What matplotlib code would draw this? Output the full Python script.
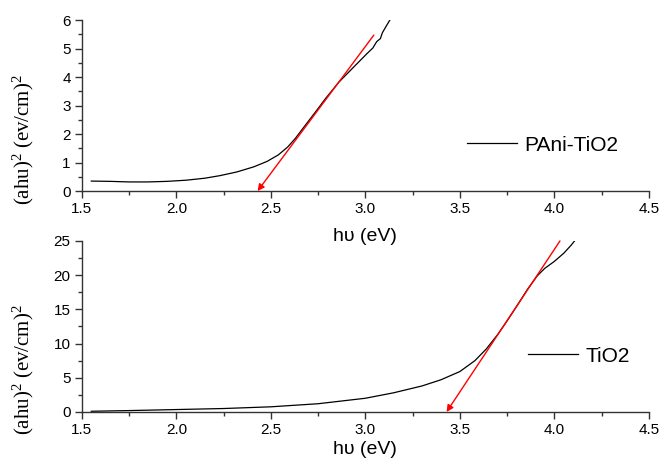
import numpy as np
import matplotlib
matplotlib.use('Agg')
import matplotlib.pyplot as plt
from matplotlib.ticker import MultipleLocator

# PAni-TiO2 curve (top panel)
pani_x = [1.55, 1.65, 1.75, 1.85, 1.95, 2.05, 2.15, 2.23, 2.32, 2.41, 2.48, 2.54, 2.59, 2.63, 2.67,
          2.73, 2.79, 2.86, 2.94, 3.01, 3.04, 3.06, 3.08, 3.09, 3.11, 3.13]
pani_y = [0.35, 0.34, 0.32, 0.32, 0.34, 0.38, 0.45, 0.54, 0.67, 0.85, 1.04, 1.27, 1.55, 1.85, 2.20,
          2.72, 3.25, 3.82, 4.36, 4.83, 5.02, 5.24, 5.35, 5.55, 5.78, 6.00]
pani_fit = [(3.045, 5.47), (2.43, 0.0)]

# TiO2 curve (bottom panel)
tio2_x = [1.55, 1.75, 2.0, 2.25, 2.5, 2.75, 3.0, 3.15, 3.3, 3.4, 3.5, 3.58, 3.64, 3.70,
          3.75, 3.80, 3.86, 3.91, 3.95, 4.00, 4.05, 4.09, 4.11]
tio2_y = [0.1, 0.2, 0.35, 0.5, 0.75, 1.2, 2.0, 2.8, 3.8, 4.7, 5.9, 7.5, 9.2, 11.3,
          13.3, 15.4, 18.0, 19.9, 21.0, 22.0, 23.2, 24.4, 25.1]
tio2_fit = [(4.03, 25.0), (3.43, 0.0)]

xticks = [1.5, 2.0, 2.5, 3.0, 3.5, 4.0, 4.5]
top_yticks = [0, 1, 2, 3, 4, 5, 6]
bot_yticks = [0, 5, 10, 15, 20, 25]

plt.rcParams['font.family'] = ['Liberation Sans', 'DejaVu Sans']
plt.rcParams['mathtext.fontset'] = 'custom'
plt.rcParams['mathtext.rm'] = 'Liberation Serif'
plt.rcParams['mathtext.it'] = 'Liberation Serif'
plt.rcParams['mathtext.default'] = 'rm'

fig = plt.figure(figsize=(6.6, 4.66), dpi=100)
ax1 = fig.add_axes([0.124, 0.590, 0.859, 0.367])
ax2 = fig.add_axes([0.124, 0.116, 0.859, 0.367])
# top panel sits over the bottom one, so its x label is not hidden
ax2.patch.set_visible(False)
ax1.set_zorder(2)
ax1.patch.set_visible(False)

ylabel = r'(ahu)$^2$ (ev/cm)$^2$'

panels = [
    (ax1, pani_x, pani_y, pani_fit, 'PAni-TiO2', top_yticks, 0.5, (0.679, 0.269), 0.30, -0.215),
    (ax2, tio2_x, tio2_y, tio2_fit, 'TiO2', bot_yticks, 2.5, (0.787, 0.327), 0.25, -0.17),
]

for ax, x, y, fit, name, yticks, yminor, legpos, ylab_y, xlab_y in panels:
    ax.plot(x, y, color='black', lw=0.9, label=name)
    ax.annotate('', xy=fit[1], xytext=fit[0],
                arrowprops=dict(arrowstyle='-|>', color='red', lw=1.0,
                                mutation_scale=10, shrinkA=0, shrinkB=0))
    ax.set_xlim(1.5, 4.5)
    ax.set_ylim(yticks[0], yticks[-1])
    ax.set_xticks(xticks)
    ax.set_xticklabels([f'{t:.1f}' for t in xticks])
    ax.set_yticks(yticks)
    ax.xaxis.set_minor_locator(MultipleLocator(0.25))
    ax.yaxis.set_minor_locator(MultipleLocator(yminor))
    for s in ['top', 'right']:
        ax.spines[s].set_visible(False)
    for s in ['left', 'bottom']:
        ax.spines[s].set_linewidth(1.0)
        ax.spines[s].set_color('#333333')
    ax.tick_params(which='major', direction='out', length=5, width=1, labelsize=11, colors='#333333',
                   labelcolor='black', pad=3)
    ax.tick_params(which='minor', direction='out', length=3, width=1, colors='#333333')
    ax.set_xlabel('hυ (eV)', fontsize=14)
    ax.xaxis.set_label_coords(0.5, xlab_y)
    ax.set_ylabel(ylabel, fontsize=15, family='Liberation Serif')
    ax.yaxis.set_label_coords(-0.08, ylab_y)
    ax.legend(loc='center left', bbox_to_anchor=legpos, frameon=False, fontsize=15,
              handlelength=2.4, handletextpad=0.35, borderpad=0, borderaxespad=0)

fig.savefig('out.png', dpi=100, facecolor='white')
